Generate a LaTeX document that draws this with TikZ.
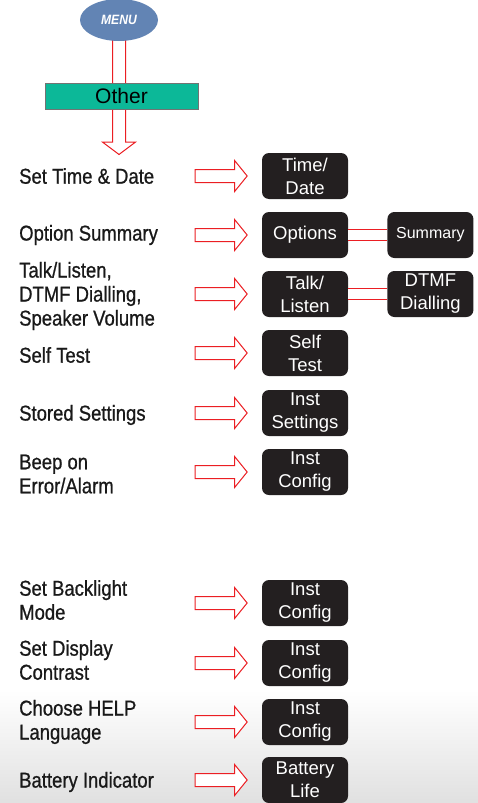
\documentclass[tikz,border=0pt]{standalone}
\usepackage{fontspec}
\setmainfont{Liberation Sans}
\newfontfamily\labelfont[FakeStretch=0.86,FakeBold=0.8]{Liberation Sans}
\newfontfamily\menufont[FakeStretch=0.9]{Liberation Sans}
\usepackage{xcolor}
\definecolor{menublue}{RGB}{98,132,180}
\definecolor{otherteal}{RGB}{12,184,152}
\definecolor{arrowred}{RGB}{235,30,35}
\definecolor{keyblack}{RGB}{35,31,32}
\usepackage{tikz}
\usetikzlibrary{positioning,shapes.geometric,shapes.arrows}
\tikzstyle{key} = [
    rectangle, rounded corners=7pt,
    fill=keyblack, text=white,
    minimum width=86pt,
    minimum height=46pt,
    inner sep=0pt, align=center,
    font=\fontsize{18.5}{23}\selectfont,
]
\tikzstyle{menuitem} = [
    anchor=west, align=left, inner sep=0pt,
    text=black!90,
    font=\labelfont\fontsize{21.5}{24}\selectfont,
]
\tikzstyle{blockarrow} = [
    single arrow, draw=arrowred, fill=white,
    line width=1pt, inner sep=0pt, inner ysep=6pt,
    single arrow head extend=9pt,
    single arrow tip angle=102,
    minimum height=52pt,
]
\tikzstyle{link} = [draw=arrowred, line width=1pt, double=white, double distance=10.5pt]

\begin{document}
\begin{tikzpicture}[x=1pt,y=-1pt]
    \useasboundingbox (0,0) rectangle (478,803);
    \shade[top color=white, bottom color=black!12] (0,690) rectangle (478,803);

    % menu
    \coordinate (menubase) at (119,36);
    \node (down) at (menubase) [blockarrow, rotate=-90, anchor=tail,
        minimum height=118pt, single arrow head extend=10pt, single arrow tip angle=106] {};
    \node (menu) at (119,20) [ellipse, fill=menublue, minimum width=78pt, minimum height=42pt,
        inner sep=0pt, text=white, font=\menufont\bfseries\itshape\fontsize{13.5}{13.5}\selectfont] {MENU};
    \node (other) at (121.5,96) [rectangle, fill=otherteal, draw=black!55, thick,
        minimum width=153pt, minimum height=26pt, font=\fontsize{21}{21}\selectfont] {Other};

    % keys
    \node (td) at (305,176) [key] {Time/\\Date};
    \node (opt) at (305,235) [key] {Options};
    \node (talk) at (305,294) [key] {Talk/\\Listen};
    \node (self) at (305,353) [key] {Self\\Test};
    \node (stored) at (305,413) [key] {Inst\\Settings};
    \node (beep) at (305,472) [key] {Inst\\Config};
    \node (back) at (305,603) [key] {Inst\\Config};
    \node (disp) at (305,663) [key] {Inst\\Config};
    \node (help) at (305,722) [key] {Inst\\Config};
    \node (batt) at (305,780) [key] {Battery\\Life};
    \node (sum) [key, right=39pt of opt, font=\fontsize{16}{20}\selectfont] {Summary};
    \node (dtmf) [key, right=39pt of talk] {DTMF\\Dialling};

    % labels
    \node (ltd) at (19,176) [menuitem] {Set Time \& Date};
    \node (lopt) at (19,235) [menuitem] {Option Summary};
    \node (ltalk) at (19,296) [menuitem] {Talk/Listen,\\DTMF Dialling,\\Speaker Volume};
    \node (lself) at (19,355) [menuitem] {Self Test};
    \node (lstored) at (19,415) [menuitem] {Stored Settings};
    \node (lbeep) at (19,474) [menuitem] {Beep on\\Error/Alarm};
    \node (lback) at (19,600) [menuitem] {Set Backlight\\Mode};
    \node (ldisp) at (19,660) [menuitem] {Set Display\\Contrast};
    \node (lhelp) at (19,722) [menuitem] {Choose HELP\\Language};
    \node (lbatt) at (19,782) [menuitem] {Battery Indicator};

    % arrows
    \foreach \k in {td,opt,talk,self,stored,beep,back,disp,help,batt}
        \node (arr\k) [blockarrow, left=14pt of \k] {};

    \draw [link] (opt) -- (sum);
    \draw [link] (talk) -- (dtmf);

\end{tikzpicture}
\end{document}
